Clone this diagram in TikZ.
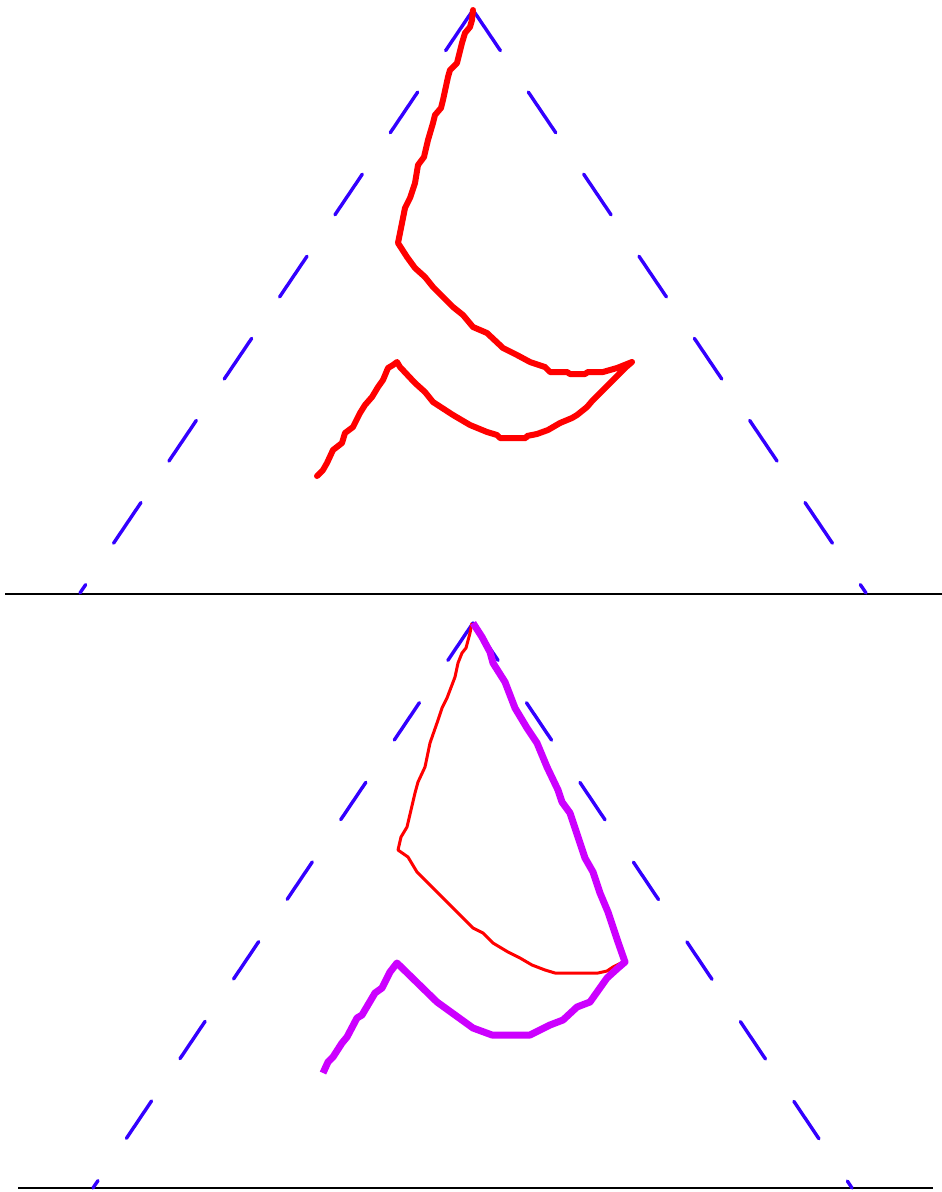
\documentclass[tikz,border=0pt]{standalone}
\definecolor{triblue}{RGB}{51,0,255}
\definecolor{curvered}{RGB}{255,0,0}
\definecolor{curvemag}{RGB}{204,0,255}
\tikzset{
  baseline rule/.style={line width=2.6pt, black},
  legtop/.style={line width=3.4pt, triblue, line cap=round, dash pattern=on 49pt off 50pt},
  legbot/.style={line width=3.4pt, triblue, line cap=round, dash pattern=on 45pt off 51pt},
  redthick/.style={line width=6pt, curvered, line join=round, line cap=round},
  redthin/.style={line width=3pt, curvered, line join=round},
  magthick/.style={line width=7pt, curvemag, line join=round},
}
\begin{document}
\begin{tikzpicture}[x=1pt,y=-1pt]
\useasboundingbox (0,0) rectangle (942,1192);
% ---------- top panel ----------
\coordinate (tA) at (473,10);
\coordinate (tL) at (80,593);
\coordinate (tR) at (866,593);
\coordinate (tl0) at (5,594);
\coordinate (tl1) at (942,594);
\draw[baseline rule] (tl0) -- (tl1);
\draw[legtop] (tA) -- (tL);
\draw[legtop] (tA) -- (tR);
\draw[redthick] (473,10) -- (472,20) -- (470,27) -- (465,33) -- (462,43) -- (457,63) -- (450,70) -- (448,77)
  -- (443,100) -- (441,108) -- (435,115) -- (433,123) -- (428,140) -- (424,157) -- (418,165) -- (415,183)
  -- (410,198) -- (405,208) -- (402,223) -- (398,243) -- (407,257) -- (415,268) -- (425,277) -- (433,287)
  -- (453,307) -- (463,315) -- (473,327) -- (487,333) -- (503,348) -- (517,355) -- (530,362) -- (545,367)
  -- (550,372) -- (567,372) -- (570,374) -- (585,374) -- (588,372) -- (603,372) -- (617,368) -- (632,362)
  -- (625,368) -- (593,400) -- (587,407) -- (577,415) -- (572,418) -- (560,423) -- (548,430) -- (537,434)
  -- (527,436) -- (526,438) -- (500,438) -- (497,435) -- (487,432) -- (470,425) -- (453,415) -- (433,402)
  -- (425,392) -- (415,383) -- (400,367) -- (397,362) -- (393,365) -- (388,368) -- (383,380) -- (378,387)
  -- (372,397) -- (365,405) -- (360,413) -- (353,427) -- (345,433) -- (342,443) -- (333,450) -- (327,463)
  -- (323,470) -- (317,476);
% ---------- bottom panel ----------
\coordinate (bA) at (473,623);
\coordinate (bL) at (93,1188);
\coordinate (bR) at (852,1188);
\coordinate (bl0) at (18,1188);
\coordinate (bl1) at (933,1188);
\draw[baseline rule] (bl0) -- (bl1);
\draw[legbot] (bA) -- (bL);
\draw[legbot] (bA) -- (bR);
\draw[redthin] (472,623) -- (470,633) -- (466,648) -- (462,653) -- (458,663) -- (455,677) -- (447,698)
  -- (442,708) -- (437,723) -- (430,743) -- (425,767) -- (418,782) -- (415,793) -- (407,827) -- (401,837)
  -- (398,850) -- (408,857) -- (417,872) -- (423,878) -- (463,918) -- (473,928) -- (483,933) -- (493,943)
  -- (508,952) -- (520,958) -- (532,965) -- (545,970) -- (555,973) -- (598,973) -- (607,971) -- (613,967)
  -- (623,962);
\draw[magthick] (473,623) -- (482,637) -- (490,652) -- (493,663) -- (505,682) -- (515,708) -- (527,728)
  -- (537,743) -- (547,767) -- (558,790) -- (562,802) -- (570,813) -- (578,837) -- (585,858) -- (593,872)
  -- (600,893) -- (608,912) -- (618,942) -- (625,962) -- (618,968) -- (607,978) -- (590,1002) -- (577,1007)
  -- (563,1020) -- (550,1025) -- (530,1035) -- (492,1035) -- (473,1028) -- (437,1002) -- (397,963)
  -- (390,972) -- (382,988) -- (375,993) -- (362,1015) -- (357,1018) -- (347,1037) -- (342,1043)
  -- (333,1057) -- (328,1062) -- (323,1073);
\end{tikzpicture}
\end{document}
